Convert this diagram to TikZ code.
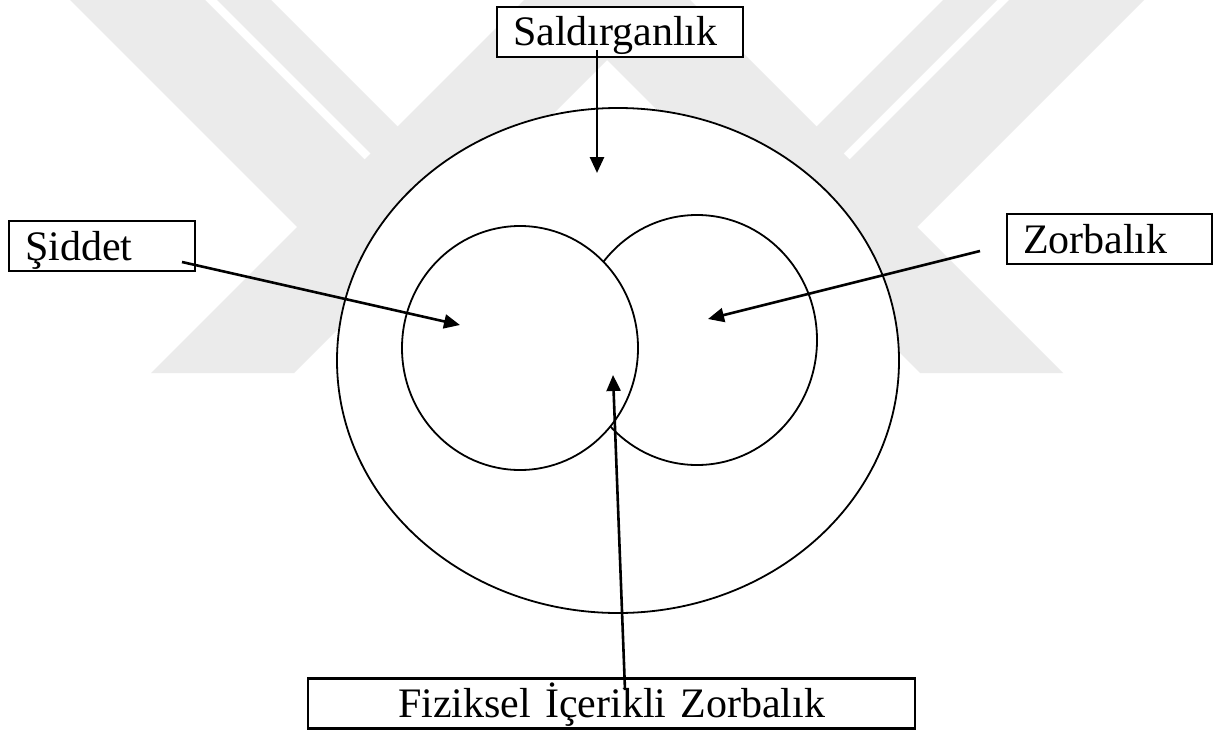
\documentclass[tikz,border=0pt]{standalone}
\usepackage{fontspec}
\setmainfont{Liberation Serif}
\usetikzlibrary{arrows.meta,shapes.geometric}
\definecolor{vennInk}{HTML}{000000}
\definecolor{vennMark}{HTML}{EBEBEB}
\tikzset{
  venn/label/.style={draw=vennInk, fill=white, line width=2.4pt,
    font=\fontsize{42}{48}\selectfont, inner xsep=16pt, inner ysep=0pt,
    text height=39pt, text depth=11pt, align=left},
  venn/set/.style={ellipse, draw=vennInk, fill=white, line width=1.8pt,
    inner sep=0pt},
  venn/arrow/.style={-{Triangle[length=16pt,width=14pt]}, draw=vennInk,
    line width=2.6pt},
  venn/mark/.style={fill=vennMark, draw=none},
}

\begin{document}
\begin{tikzpicture}[x=1pt, y=-1pt]
\fill[white] (0,0) rectangle (1214,733);
\useasboundingbox (0,0) rectangle (1214,733);

% watermark behind the sets
\fill[venn/mark] (70,0) -- (205,0) -- (435,230) -- (300,230) -- cycle;
\fill[venn/mark] (217,0) -- (271,0) -- (431,160) -- (377,160) -- cycle;
\fill[venn/mark] (151,373) -- (294,373) -- (667,0) -- (524,0) -- cycle;
\fill[venn/mark] (1063,373) -- (920,373) -- (547,0) -- (690,0) -- cycle;
\fill[venn/mark] (1144,0) -- (1009,0) -- (779,230) -- (914,230) -- cycle;
\fill[venn/mark] (997,0) -- (943,0) -- (783,160) -- (837,160) -- cycle;

% sets
\node[venn/set, minimum width=562pt, minimum height=505pt] (aggr) at (618,360.5) {};
\node[venn/set, minimum width=240pt, minimum height=250pt] (bully) at (697,340) {};
\node[venn/set, minimum width=236pt, minimum height=244pt] (viol) at (520,348) {};

% labels
\node[venn/label, text width=214pt] (aggrLabel) at (620,32) {Saldırganlık};
\node[venn/label, text width=154pt] (violLabel) at (102,246) {Şiddet};
\node[venn/label, text width=173pt] (bullyLabel) at (1109.5,239) {Zorbalık};
\node[venn/label, text width=575pt, align=center] (physLabel) at (611.5,703.5)
  {Fiziksel İçerikli Zorbalık};

% arrow ends
\coordinate (aggrFrom) at (597,50);
\coordinate (aggrTo) at (597,173);
\coordinate (violFrom) at (182,262);
\coordinate (violTo) at (460,325);
\coordinate (bullyFrom) at (980,251);
\coordinate (bullyTo) at (708,319);
\coordinate (physFrom) at (625,690);
\coordinate (physTo) at (613,375);

\draw[venn/arrow] (aggrFrom) -- (aggrTo);
\draw[venn/arrow] (violFrom) -- (violTo);
\draw[venn/arrow] (bullyFrom) -- (bullyTo);
\draw[venn/arrow] (physFrom) -- (physTo);
\end{tikzpicture}
\end{document}
